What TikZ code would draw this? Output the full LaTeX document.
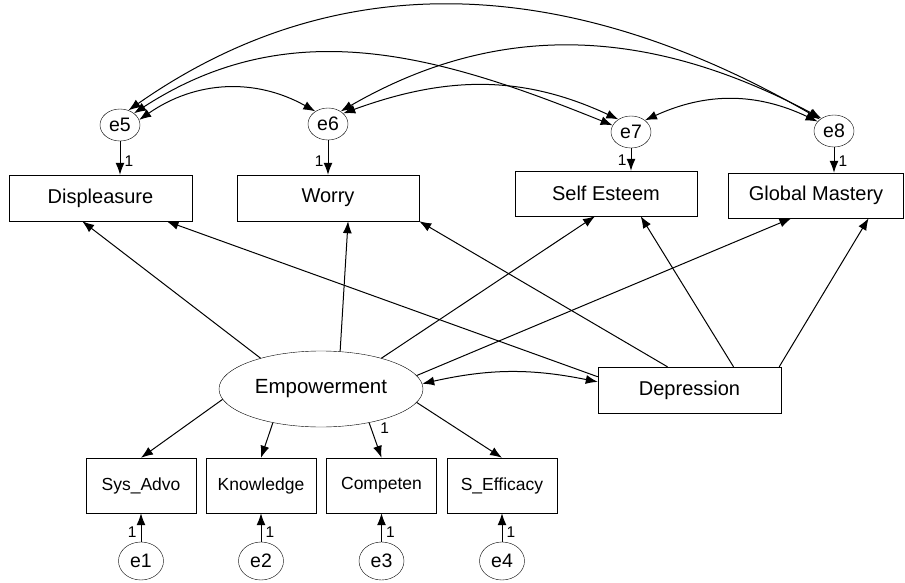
\documentclass[tikz,border=0pt]{standalone}
\usepackage{fontspec}
\setmainfont{Liberation Sans}
\usetikzlibrary{arrows.meta,calc,shapes.geometric}

\begin{document}
\begin{tikzpicture}[
  x=1pt, y=-1pt,
  box/.style={draw, minimum height=46pt, minimum width=183pt, inner sep=0pt, font=\fontsize{20}{24}\selectfont},
  sbox/.style={draw, minimum height=55pt, minimum width=110pt, inner sep=0pt, font=\fontsize{17.5}{21}\selectfont},
  err/.style={draw, ellipse, minimum width=40pt, minimum height=32pt, inner sep=0pt, font=\fontsize{19.5}{23}\selectfont},
  arr/.style={-{Latex[length=12pt,width=9pt]}, line width=1pt},
  cov/.style={{Latex[length=12pt,width=9pt]}-{Latex[length=12pt,width=9pt]}, line width=1pt},
  one/.style={font=\fontsize{15.5}{18}\selectfont, inner sep=4pt}
]
  \useasboundingbox (0,0) rectangle (905,583);

  % observed outcomes
  \node[box] (displ) at (100.5,198) {Displeasure};
  \node[box, minimum width=182pt] (worry) at (328,198) {Worry};
  \node[box, minimum width=182pt, minimum height=45pt] (selfest) at (606,193.5) {Self Esteem};
  \node[box, minimum width=175pt, minimum height=45pt] (glob) at (816,195.5) {Global Mastery};

  % latent and depression
  \node[draw, ellipse, minimum width=204pt, minimum height=76pt, inner sep=0pt,
        font=\fontsize{20.5}{24}\selectfont] (emp) at (321,389) {Empowerment};
  \node[box] (dep) at (689.5,390) {Depression};

  % residuals of outcomes
  \node[err] (e5) at (120,125) {e5};
  \node[err] (e6) at (328,124) {e6};
  \node[err] (e7) at (631,132) {e7};
  \node[err] (e8) at (834,131) {e8};

  \draw[arr] (e5.south) -- node[one, right, pos=0.6] {1} (e5.south |- displ.north);
  \draw[arr] (e6.south) -- node[one, left, pos=0.6] {1} (e6.south |- worry.north);
  \draw[arr] (e7.south) -- node[one, left, pos=0.55] {1} (e7.south |- selfest.north);
  \draw[arr] (e8.south) -- node[one, right, pos=0.55] {1} (e8.south |- glob.north);

  % indicators
  \foreach \x/\n/\i/\s/\t in {141/sys/1/left/Sys\_Advo, 261/know/2/right/Knowledge,
                              381.5/comp/3/right/Competen, 502/seff/4/right/S\_Efficacy} {
    \node[sbox] (\n) at (\x,485.5) {\t};
    \node[err, minimum width=45pt, minimum height=38pt] (e\i) at (\x,561) {e\i};
    \draw[arr] (e\i) -- node[one, \s, pos=0.35] {1} (\n);
  }

  \draw[arr] (emp.186) -- (sys.north);
  \draw[arr] (emp.215) -- (know.north);
  \draw[arr] (emp.325) -- node[one, right, pos=0.15, xshift=5pt] {1} (comp.north);
  \draw[arr] (emp.352) -- (seff.north);

  % paths to outcomes
  \draw[arr] (emp.153) -- ($(displ.south west)!0.40!(displ.south east)$);
  \draw[arr] (emp.63) -- ($(worry.south west)!0.61!(worry.south east)$);
  \draw[arr] (emp.27) -- ($(selfest.south west)!0.44!(selfest.south east)$);
  \draw[arr] (emp.8) -- ($(glob.south west)!0.36!(glob.south east)$);
  \draw[arr] ($(dep.north west)!0.43!(dep.west)$) -- ($(displ.south west)!0.86!(displ.south east)$);
  \draw[arr] ($(dep.north west)!0.38!(dep.north east)$) -- (worry.south east);
  \draw[arr] ($(dep.north west)!0.74!(dep.north east)$) -- ($(selfest.south west)!0.69!(selfest.south east)$);
  \draw[arr] ($(dep.north east)+(-2,0)$) -- ($(glob.south west)!0.80!(glob.south east)$);

  % covariances
  \draw[cov] (emp.3) to[bend left=12] ($(dep.north west)!0.65!(dep.west)$);
  \draw[cov] (e5.15) to[bend left=32] (e6.135);
  \draw[cov] (e5.40) to[out=33, in=158] (e7.160);
  \draw[cov] (e5.60) to[out=35, in=150] (e8.140);
  \draw[cov] (e6.45) to[out=30, in=152] (e8.135);
  \draw[cov] (e6.35) to[out=20, in=155] (e7.135);
  \draw[cov] (e7.40) to[bend left=25] (e8.150);
\end{tikzpicture}
\end{document}
